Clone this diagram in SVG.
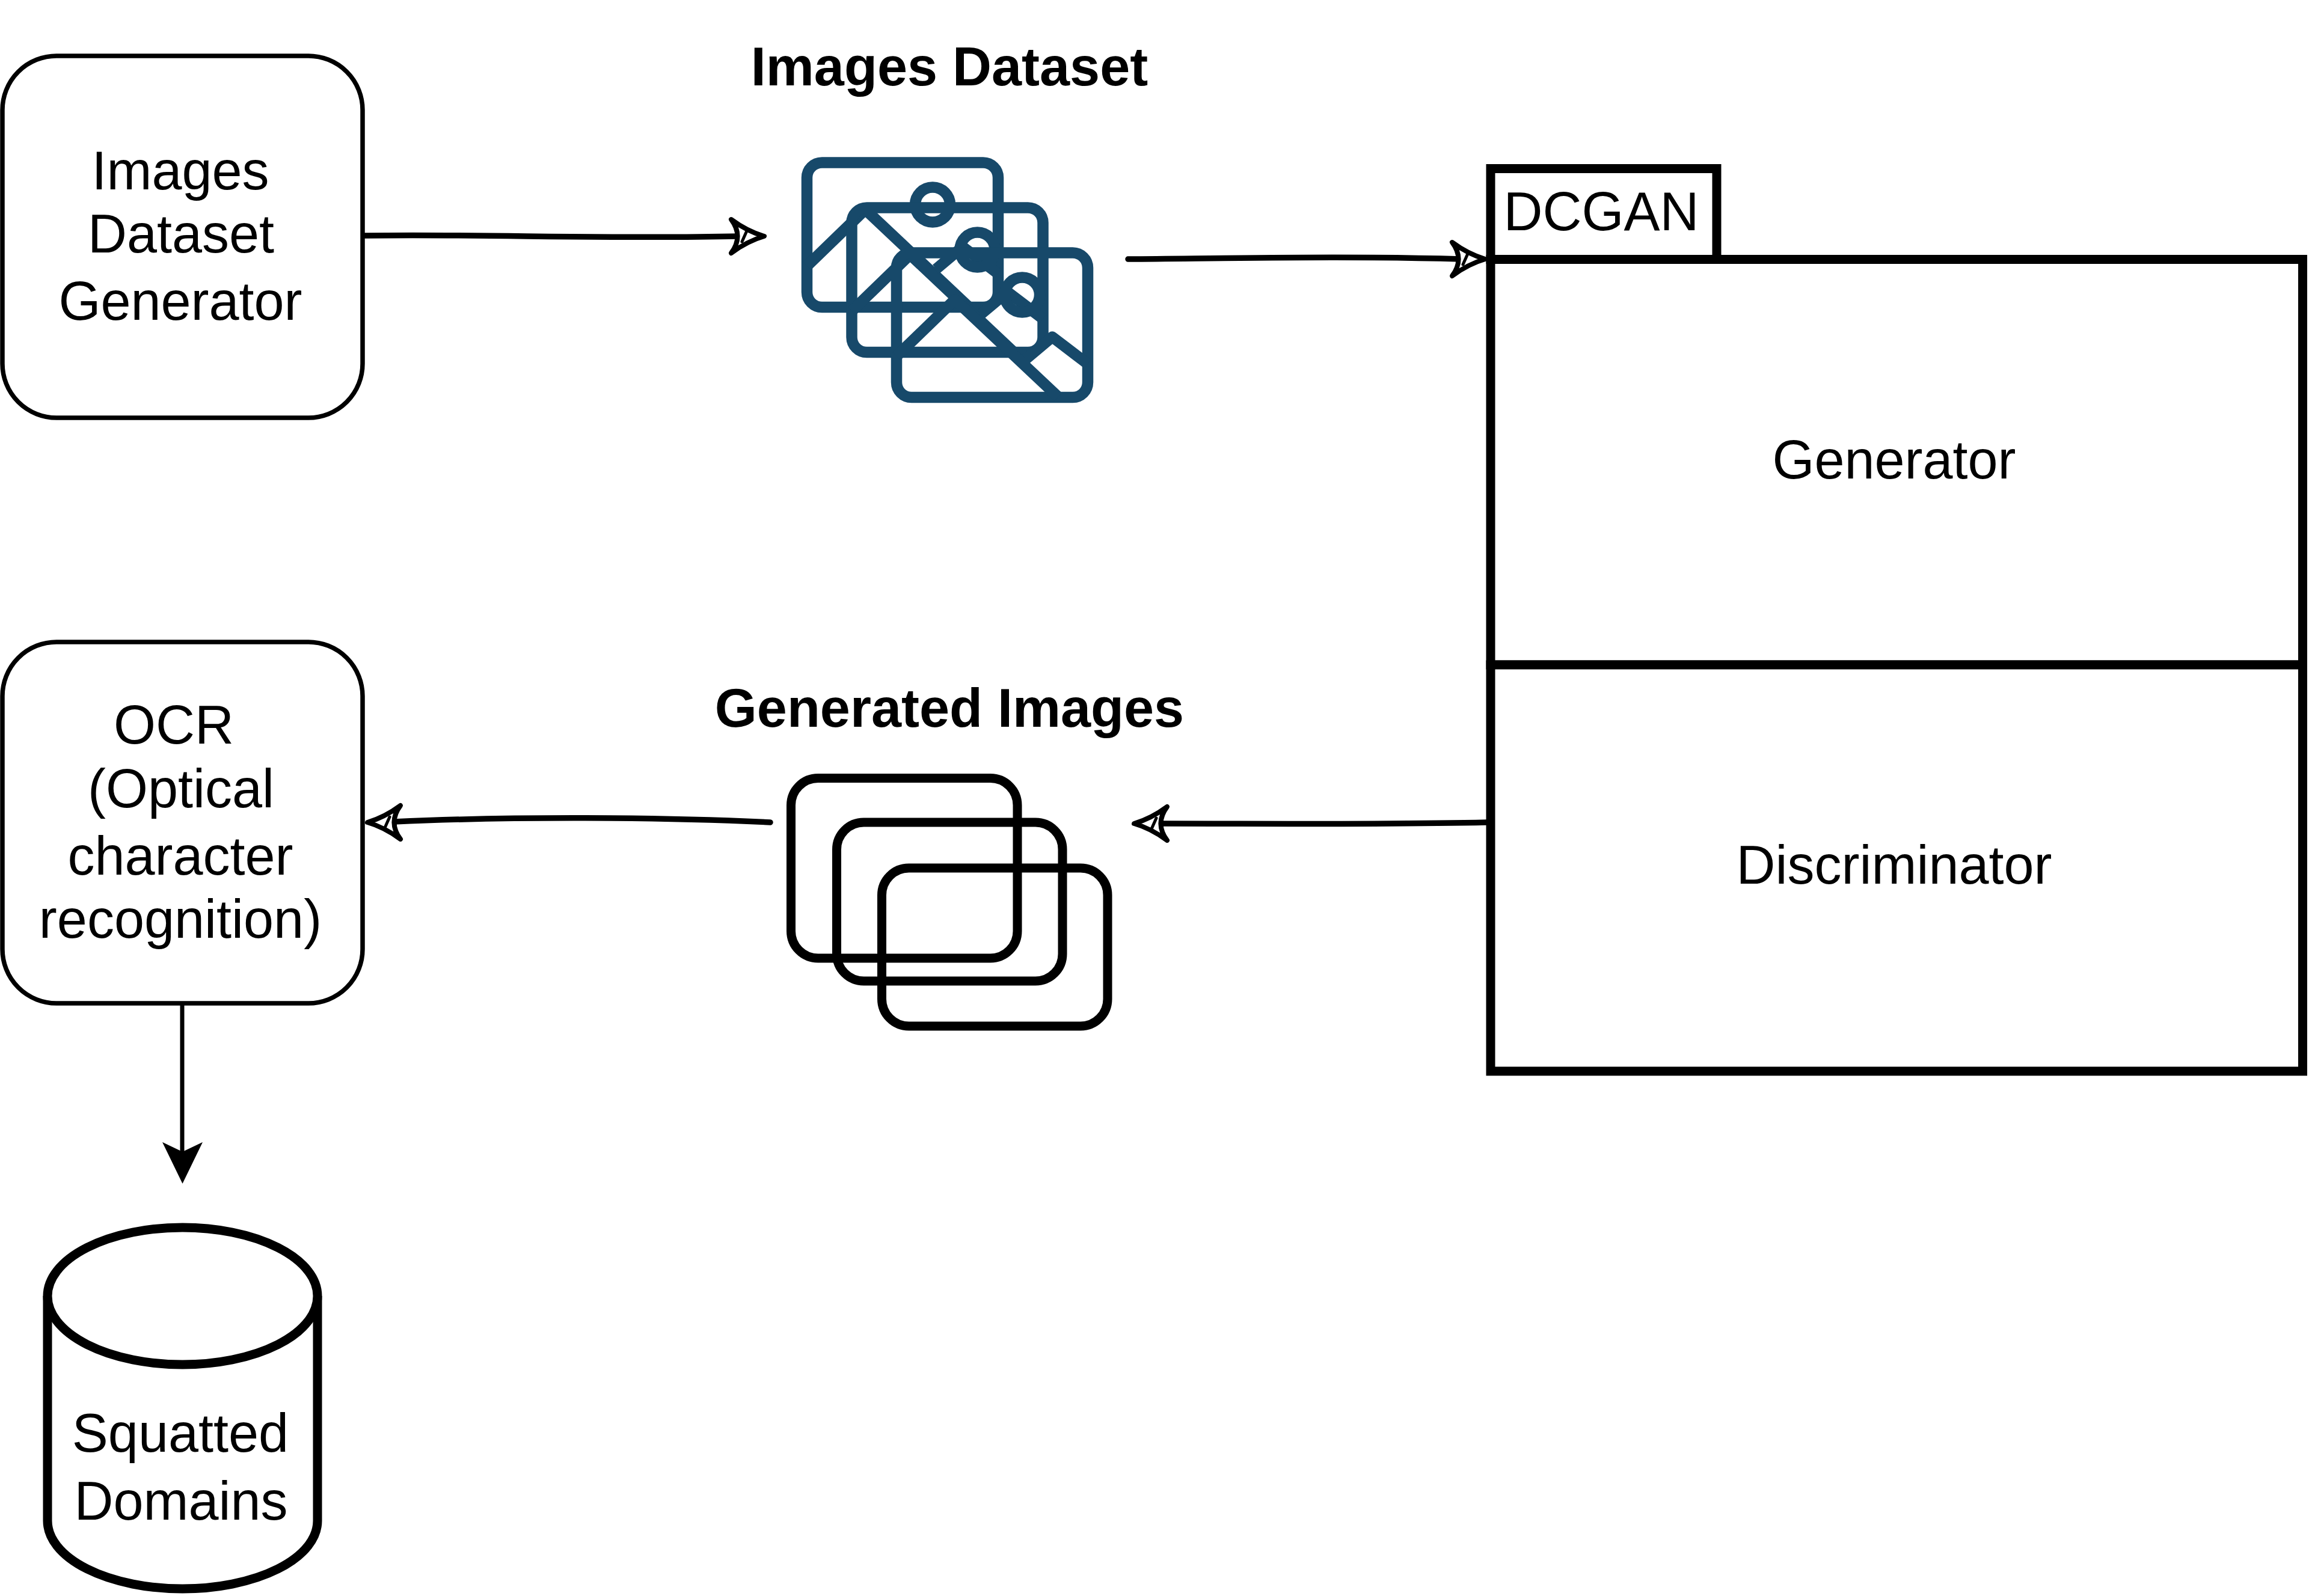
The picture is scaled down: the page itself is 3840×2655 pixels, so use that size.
<svg xmlns="http://www.w3.org/2000/svg" xmlns:xlink="http://www.w3.org/1999/xlink" width="3840" height="2655" viewBox="0 0 3840 2655">
<style>
text{font-family:"Liberation Sans",Arial,sans-serif;font-size:90px;fill:#000;text-anchor:middle}
.b{font-weight:bold}
.box{fill:#fff;stroke:#000;stroke-width:7.5}
.thick{fill:#fff;stroke:#000;stroke-width:15}
.frame{fill:none;stroke:#000;stroke-width:15}
.pic{fill:none;stroke:#17496A;stroke-width:18.500;stroke-linejoin:round}
.sk{fill:none;stroke:#000;stroke-width:9.500;stroke-linecap:round}
.hd{fill:#fff;stroke:#000;stroke-width:8;stroke-linejoin:round;stroke-linecap:round}
.hm{fill:none;stroke:#000;stroke-width:5;stroke-linecap:round}
</style>
<defs>
<g id="head"><path class="hd" d="M-57 -28Q-30 -8 -2 0Q-30 8 -57 28Q-36 0 -57 -28Z"/><path class="hm" d="M-31 -9L-39 9"/></g>
<g id="pic"><rect class="pic" width="318" height="240.500" rx="25" ry="25"/><circle class="pic" cx="209" cy="70" r="29"/><path class="pic" d="M0 172L97 78L269 240M215 177L259 140L318 185"/></g>
</defs>
<rect width="3840" height="2655" fill="#fff"/>
<g id="connectors">
<path class="sk" d="M607 392C800 389 1000 398 1228 393"/><use xlink:href="#head" href="#head" transform="translate(1273 393)"/>
<path class="sk" d="M1876 431C2100 429 2250 426 2430 431"/><use xlink:href="#head" href="#head" transform="translate(2472 431)"/>
<path class="sk" d="M1281 1368C1100 1359 850 1358 655 1367"/><use xlink:href="#head" href="#head" transform="translate(609 1368) rotate(180)"/>
<path class="sk" d="M2473 1368C2300 1372 2100 1370 1930 1370"/><use xlink:href="#head" href="#head" transform="translate(1884 1370) rotate(180)"/>
<path d="M303 1672V1916" fill="none" stroke="#000" stroke-width="7"/>
<path d="M303.500 1969L270 1900L303.500 1916L337 1900Z" fill="#000"/>
</g>
<g id="images-dataset-generator"><rect class="box" x="4" y="93" width="599" height="602" rx="90" ry="90"/>
<text x="300" y="315">Images</text><text x="301" y="420">Dataset</text><text x="300" y="532">Generator</text></g>
<g id="images-dataset"><text class="b" x="1579" y="142">Images Dataset</text>
<use xlink:href="#pic" href="#pic" transform="translate(1342 270.500)"/><use xlink:href="#pic" href="#pic" transform="translate(1416.500 345.500)"/><use xlink:href="#pic" href="#pic" transform="translate(1491 420.500)"/></g>
<g id="dcgan"><rect class="thick" x="2479" y="280.500" width="376" height="151"/><rect class="thick" x="2479" y="431.500" width="1350.500" height="674.500"/><rect class="thick" x="2479" y="1106" width="1350.500" height="676"/>
<text x="2663" y="383">DCGAN</text><text x="3150" y="796">Generator</text><text x="3150" y="1470">Discriminator</text></g>
<g id="generated-images"><text class="b" x="1579" y="1209">Generated Images</text>
<rect class="frame" x="1315.500" y="1294.500" width="376.500" height="299.500" rx="45" ry="45"/><rect class="frame" x="1391.500" y="1368" width="375.500" height="264" rx="45" ry="45"/><rect class="frame" x="1466.500" y="1444" width="375.500" height="263" rx="45" ry="45"/></g>
<g id="ocr"><rect class="box" x="4" y="1068" width="599" height="601" rx="90" ry="90"/>
<text x="289" y="1237">OCR</text><text x="301" y="1343">(Optical</text><text x="300" y="1455">character</text><text x="300" y="1560">recognition)</text></g>
<g id="squatted-domains"><path class="thick" d="M79 2156V2530A224.500 113 0 0 0 528 2530V2156"/><ellipse class="thick" cx="303.500" cy="2156" rx="224.500" ry="114"/>
<text x="300" y="2415">Squatted</text><text x="301" y="2528">Domains</text></g>
</svg>
